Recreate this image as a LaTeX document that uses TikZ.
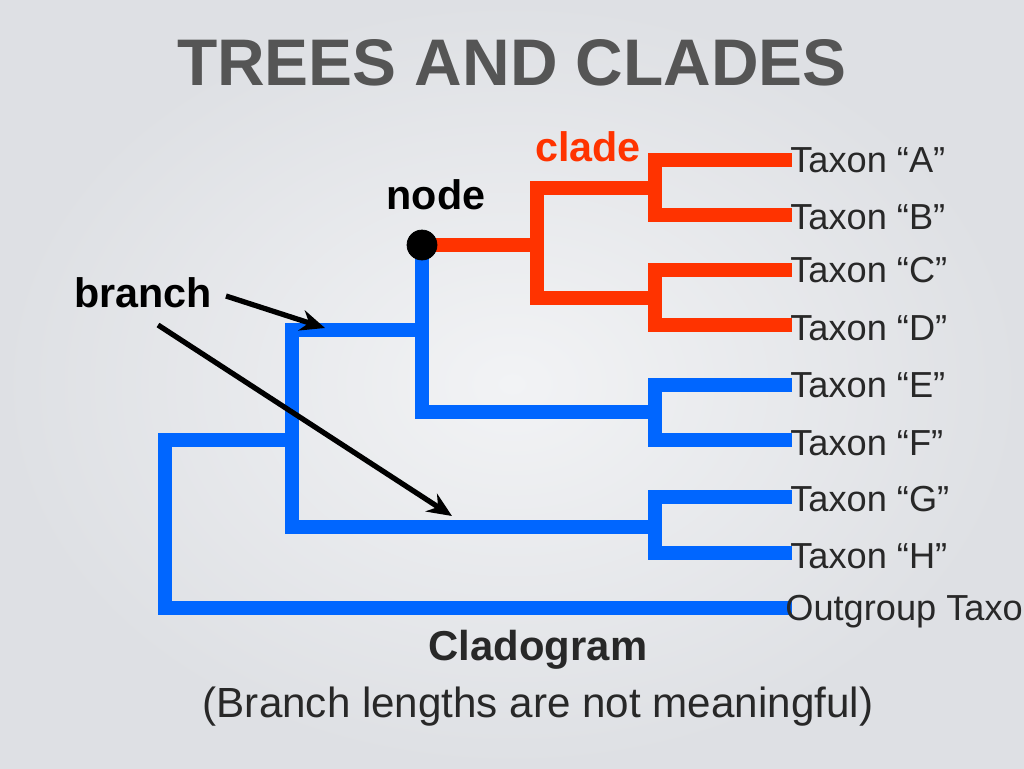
\documentclass[tikz,border=0pt]{standalone}
\usepackage{fontspec}
\setmainfont{Liberation Sans}
\usetikzlibrary{arrows.meta, positioning, calc}
\definecolor{cladered}{RGB}{255,51,0}
\definecolor{treeblue}{RGB}{0,102,255}
\definecolor{titlegray}{RGB}{85,85,85}
\definecolor{textgray}{RGB}{40,40,40}
\tikzset{
  redline/.style={cladered, line width=8pt, line cap=rect, line join=miter},
  blueline/.style={treeblue, line width=8pt, line cap=rect, line join=miter},
  taxon/.style={anchor=west, text=textgray, font=\fontsize{20.6}{24}\selectfont, inner sep=0pt},
  lbl/.style={font=\bfseries\fontsize{23.5}{27}\selectfont, inner sep=0pt},
  pointer/.style={line width=3pt, -{Stealth[length=14pt, width=12pt]}}
}
\begin{document}
\begin{tikzpicture}[x={(0.02cm,0)}, y={(0,-0.02cm)}]
\shade[inner color={rgb,255:red,242;green,243;blue,245}, outer color={rgb,255:red,222;green,224;blue,228}] (0,0) rectangle (1024,768);
\useasboundingbox (0,0) rectangle (1024,768);
\clip (0,0) rectangle (1024,768);

\node[font=\bfseries\fontsize{37.5}{42}\selectfont, text=titlegray] (title) at (512,63) {TREES AND CLADES};

% taxon ends
\coordinate (la) at (785,160);
\coordinate (lb) at (785,215);
\coordinate (lc) at (785,270);
\coordinate (ld) at (785,325);
\coordinate (le) at (785,385);
\coordinate (lf) at (785,440);
\coordinate (lg) at (785,497);
\coordinate (lh) at (785,553);
\coordinate (lo) at (785,608);

% joints
\coordinate (ab) at (655,188);
\coordinate (cd) at (655,298);
\coordinate (abcd) at (537,245);
\coordinate (ef) at (655,412);
\coordinate (gh) at (655,527);
\coordinate (root) at (422,245);

% red clade
\draw[redline] (la) -| (ab) |- (lb);
\draw[redline] (lc) -| (cd) |- (ld);
\draw[redline] (ab) -- (ab -| abcd) -- (cd -| abcd) -- (cd);
\draw[redline] (root) -- (abcd);

% blue
\draw[blueline] (le) -| (ef) |- (lf);
\draw[blueline] (lg) -| (gh) |- (lh);
\draw[blueline] (root) -- (root |- ef) -- (ef);
\draw[blueline] (422,330) -- (292,330) -- (292,527) -- (gh);
\draw[blueline] (292,440) -- (165,440) -- (165,608) -- (lo);

\node[draw, circle, fill=black, minimum size=30*0.02cm, inner sep=0pt] (node) at (root) {};

% labels
\node[lbl, text=cladered] (clade) at (588,147) {clade};
\node[lbl] (nodelbl) at (436,195) {node};
\node[lbl] (branch) at (143,293) {branch};
\coordinate (b1) at (325,328);
\coordinate (b2) at (452,516);
\draw[pointer] (226,296) -- (b1);
\draw[pointer] (158,325) -- (b2);

\node[taxon] (ta) at (790,160) {Taxon “A”};
\node[taxon] (tb) at (790,217) {Taxon “B”};
\node[taxon] (tc) at (790,270) {Taxon “C”};
\node[taxon] (td) at (790,328) {Taxon “D”};
\node[taxon] (te) at (790,385) {Taxon “E”};
\node[taxon] (tf) at (790,443) {Taxon “F”};
\node[taxon] (tg) at (790,499) {Taxon “G”};
\node[taxon] (th) at (790,556) {Taxon “H”};
\node[taxon] (tout) at (785,612) {Outgroup Taxon};

\node[font=\bfseries\fontsize{23.8}{28}\selectfont, text=textgray] (clado) at (538,650) {Cladogram};
\node[font=\fontsize{24}{28}\selectfont, text=textgray] (note) at (538,707) {(Branch lengths are not meaningful)};
\end{tikzpicture}
\end{document}
